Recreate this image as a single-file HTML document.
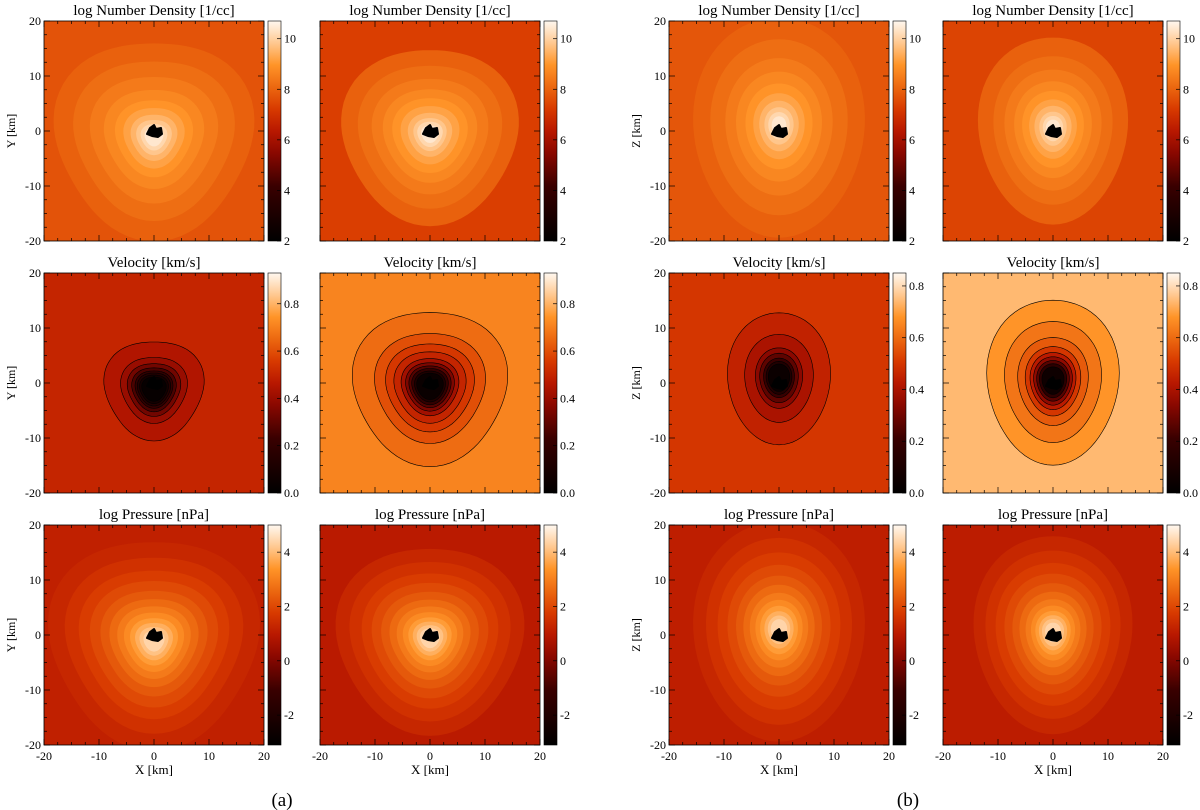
<!DOCTYPE html>
<html><head><meta charset="utf-8"><style>
html,body{margin:0;padding:0;background:#fff;}
svg{display:block;font-family:"Liberation Serif",serif;}
</style></head><body>
<svg id="fig" width="1200" height="810" viewBox="0 0 1200 810" xmlns="http://www.w3.org/2000/svg"></svg>
<script>
// ---- data ----
const titles = ["log Number Density [1/cc]","Velocity [km/s]","log Pressure [nPa]"];
const rangesLeft = [[2,10.7],[0,0.93],[-3.1,5]];
const rangesRight = [[2,10.7],[0,0.85],[-3.1,5]];
const densityTicks = [2,4,6,8,10];
const velocityTicks = [0.0,0.2,0.4,0.6,0.8];
const pressureTicks = [-2,0,2,4];
const axisTicks = [-20,-10,0,10,20];
// background level per panel [row][col]
const bgLevels = [[7.7,7.3,7.75,7.4],[0.5,0.71,0.5,0.74],[1.15,1.0,1.1,1.05]];
const densityLevels = [7.95,8.2,8.45,8.7,8.95,9.2,9.5,9.8,10.1,10.4];
const densityRadii = [[18,14.5,11.5,9,7,5.5,4.2,3.2,2.4,1.7],[16,13,10.5,8.5,6.8,5.3,4,3,2.3,1.6],[20,16,12.5,10,7.8,6,4.6,3.4,2.5,1.7],[17,13.5,11,8.8,7,5.4,4.2,3.1,2.3,1.6]];
const velLevels0 = [0.45,0.4,0.33,0.26,0.2,0.14,0.08,0.03];
const velRadii0 = [9,6,4.8,4,3.4,3,2.6,2.2];
const velLevels1 = [0.66,0.6,0.55,0.5,0.42,0.35,0.28,0.2,0.12,0.04];
const velRadii1 = [14,10,8,6.5,5.2,4.4,3.8,3.3,2.8,2.4];
const velLevels2 = [0.45,0.4,0.34,0.27,0.2,0.12,0.04];
const velRadii2 = [12,8,5.5,4.5,3.6,3,2.5];
const velLevels3 = [0.68,0.62,0.57,0.5,0.43,0.35,0.26,0.16,0.05];
const velRadii3 = [15,11,8,6.3,5.2,4.4,3.7,3.1,2.5];
const presLevels = [1.3,1.55,1.8,2.05,2.3,2.6,2.9,3.2,3.5,3.8,4.1,4.4];
const presRadii = [[19,16,13.5,11.5,9.6,8,6.6,5.4,4.3,3.4,2.6,1.9],[17,14.5,12.3,10.5,8.8,7.3,6,4.9,3.9,3.1,2.4,1.8],[20,17,14.3,12,10,8.3,6.8,5.5,4.4,3.4,2.6,1.9],[18,15.3,13,11,9.2,7.6,6.2,5,4,3.2,2.5,1.8]];
// ---- layout ----
const colX=[44,320,669,943], rowY=[21,273,525], S=220, K=S/40;
const shapes=[{a:0.06,p:-Math.PI/2,asp:1,dy:-1},{a:0.05,p:-Math.PI/2,asp:1,dy:-0.5},{a:0.02,p:-Math.PI/2,asp:0.78,dy:1},{a:0.03,p:-Math.PI/2,asp:0.8,dy:0.5}];
const NS="http://www.w3.org/2000/svg";
const svg=document.getElementById('fig');
function el(t,at,parent){const e=document.createElementNS(NS,t);for(const k in at)e.setAttribute(k,at[k]);(parent||svg).appendChild(e);return e;}
const stops=[[0,[0,0,0]],[0.25,[58,0,0]],[0.4,[138,8,0]],[0.5,[184,24,0]],[0.6,[216,58,0]],[0.7,[236,104,16]],[0.8,[255,148,40]],[0.9,[255,200,144]],[1,[255,248,240]]];
function cmap(f){f=Math.max(0,Math.min(1,f));for(let i=1;i<stops.length;i++){if(f<=stops[i][0]){const [f0,c0]=stops[i-1],[f1,c1]=stops[i];const t=(f-f0)/(f1-f0);return 'rgb('+c0.map((v,j)=>Math.round(v+(c1[j]-v)*t)).join(',')+')';}}return 'rgb(255,248,240)';}
function blob(px,py,R,sh){let d='';for(let i=0;i<=72;i++){const th=i/72*2*Math.PI;const r=R*(1+sh.a*Math.cos(3*th+sh.p));const x=px+S/2+r*Math.cos(th)*sh.asp*K;const y=py+S/2-(sh.dy*K)-r*Math.sin(th)*K;d+=(i?'L':'M')+x.toFixed(1)+','+y.toFixed(1);}return d+'Z';}
function panel(r,c,levels,radii,range,lines){
  const px=colX[c],py=rowY[r];
  const g=el('g',{});
  const cp=el('clipPath',{id:'cp'+r+c},g);el('rect',{x:px,y:py,width:S,height:S},cp);
  const inner=el('g',{'clip-path':'url(#cp'+r+c+')'},g);
  const f=v=>(v-range[0])/(range[1]-range[0]);
  const bg=el('rect',{x:px,y:py,width:S,height:S,fill:cmap(f(bgLevels[r][c]))},inner);
  
  
  const sh=shapes[c];
  levels.forEach((lv,i)=>{
    const p=el('path',{d:blob(px,py,radii[i],sh),fill:cmap(f(lv)),stroke:lines?'#000':'none','stroke-width':lines?0.6:0},inner);
    
    
  });
  const cx=px+S/2, cy=py+S/2;
  const nuc=el('path',{d:`M${cx-7},${cy+3} L${cx-4},${cy-3} L${cx},${cy-6} L${cx+2},${cy-2} L${cx+7},${cy-3} L${cx+8},${cy+3} L${cx+4},${cy+6} L${cx-2},${cy+5} Z`,fill:'#000',stroke:'#000','stroke-width':2,'stroke-linejoin':'round'},inner);
  
  
  el('rect',{x:px,y:py,width:S,height:S,fill:'none',stroke:'#000','stroke-width':0.8},g);
  for(let v=-20;v<=20;v+=2.5){const x=px+(v+20)*K,y=py+S-(v+20)*K;const L=(v%10===0)?6:3;
    el('line',{x1:x,y1:py,x2:x,y2:py+L,stroke:'#000','stroke-width':0.7},g);
    el('line',{x1:x,y1:py+S,x2:x,y2:py+S-L,stroke:'#000','stroke-width':0.7},g);
    el('line',{x1:px,y1:y,x2:px+L,y2:y,stroke:'#000','stroke-width':0.7},g);
    el('line',{x1:px+S,y1:y,x2:px+S-L,y2:y,stroke:'#000','stroke-width':0.7},g);}
  const t=el('text',{x:px+S/2,y:py-6,'text-anchor':'middle','font-size':15},g);t.textContent=titles[r];
  
  
  if(c===0||c===2){
    axisTicks.forEach(v=>{const tt=el('text',{x:px-3,y:py+S-(v+20)*K+4,'text-anchor':'end','font-size':12},g);tt.textContent=v;
      
      });
    const yt=el('text',{x:0,y:0,transform:`translate(${px-29},${py+S/2}) rotate(-90)`,'text-anchor':'middle','font-size':12},g);yt.textContent=c===0?'Y [km]':'Z [km]';
    
    
  }
  if(r===2){
    axisTicks.forEach(v=>{const tt=el('text',{x:px+(v+20)*K,y:py+S+15,'text-anchor':'middle','font-size':12},g);tt.textContent=v;
      
      });
    const xt=el('text',{x:px+S/2,y:py+S+29,'text-anchor':'middle','font-size':13},g);xt.textContent='X [km]';
    
    
  }
  const bx=px+S+4;
  const gid='gr'+r+c;
  const lg=el('linearGradient',{id:gid,x1:0,y1:1,x2:0,y2:0},g);
  for(let i=0;i<=20;i++)el('stop',{offset:i/20,'stop-color':cmap(i/20)},lg);
  const cb=el('rect',{x:bx,y:py,width:13,height:S,fill:`url(#${gid})`,stroke:'#000','stroke-width':0.6},g);
  
  
  const ticks=r===0?densityTicks:r===1?velocityTicks:pressureTicks;
  ticks.forEach(v=>{const y=py+S-f(v)*S;
    el('line',{x1:bx+9,y1:y,x2:bx+13,y2:y,stroke:'#000','stroke-width':0.7},g);
    const tt=el('text',{x:bx+16,y:y+4,'font-size':12},g);tt.textContent=r===1?v.toFixed(1):v;
    
    });
}
for(let c=0;c<4;c++){
  const rg=c<2?rangesLeft:rangesRight;
  panel(0,c,densityLevels,densityRadii[c],rg[0],false);
  const vl=[velLevels0,velLevels1,velLevels2,velLevels3][c], vr=[velRadii0,velRadii1,velRadii2,velRadii3][c];
  panel(1,c,vl,vr,rg[1],true);
  panel(2,c,presLevels,presRadii[c],rg[2],false);
}
const la=el('text',{x:282,y:806,'text-anchor':'middle','font-size':19});la.textContent='(a)';


const lb=el('text',{x:908,y:806,'text-anchor':'middle','font-size':19});lb.textContent='(b)';


</script>
</body></html>
